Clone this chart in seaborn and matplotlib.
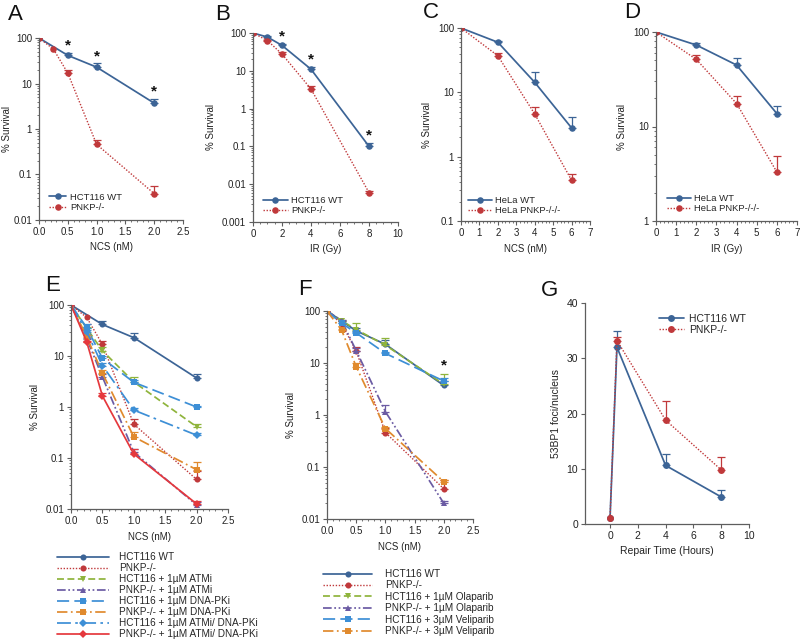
import numpy as np
import matplotlib
matplotlib.use("Agg")
import matplotlib.pyplot as plt
import seaborn as sns
from matplotlib.ticker import FuncFormatter, AutoMinorLocator, LogLocator, NullFormatter

# ---- panel A: NCS, HCT116
a_wt_x = [0.0, 0.5, 1.0, 2.0]
a_wt_y = [100, 41.5, 22.9, 3.7]
a_wt_err = [0, 6.5, 5.0, 0.8]
a_pn_x = [0.0, 0.25, 0.5, 1.0, 2.0]
a_pn_y = [100, 57, 16.9, 0.46, 0.038]
a_pn_err = [0, 0, 3.2, 0.11, 0.018]
a_star_x = [0.5, 1.0, 2.0]
a_star_y = [68, 40, 6.6]

# ---- panel B: IR, HCT116
b_x = [0, 1, 2, 4, 8]
b_wt_y = [100, 78, 47, 11, 0.1]
b_wt_err = [0, 4, 5, 1.5, 0.02]
b_pn_y = [100, 63, 27.7, 3.3, 0.006]
b_pn_err = [0, 4, 3, 0.6, 0.0008]
b_star_x = [2, 4, 8]
b_star_y = [80, 20, 0.2]

# ---- panel C: NCS, HeLa
c_x = [0, 2, 4, 6]
c_wt_y = [100, 60, 14.3, 2.8]
c_wt_err = [0, 2, 6.2, 1.4]
c_pn_y = [100, 37, 4.6, 0.43]
c_pn_err = [0, 4, 1.3, 0.11]

# ---- panel D: IR, HeLa
d_x = [0, 2, 4, 6]
d_wt_y = [100, 72.8, 44.7, 13.7]
d_wt_err = [0, 3.2, 8, 2.7]
d_pn_y = [100, 51.3, 17.5, 3.3]
d_pn_err = [0, 5.3, 3.5, 1.55]

# ---- panel E: NCS + ATMi / DNA-PKi
e_x = [0.0, 0.25, 0.5, 1.0, 2.0]
e_atmi_wt = [100, 35, 12.7, 3.1, 0.41]
e_atmi_wt_err = [0, 2, 2, 0.7, 0.05]
e_atmi_pn = [100, 22, 3.9, 0.13, 0.012]
e_atmi_pn_err = [0, 1, 0.5, 0.02, 0.002]
e_dpk_wt = [100, 36, 9.0, 3.05, 1.0]
e_dpk_wt_err = [0, 7, 1, 0.3, 0.05]
e_dpk_pn = [100, 24, 4.6, 0.26, 0.059]
e_dpk_pn_err = [0, 2, 0.6, 0.07, 0.025]
e_combo_wt = [100, 30, 6.5, 0.87, 0.28]
e_combo_wt_err = [0, 3, 0.8, 0.1, 0.03]
e_combo_pn = [100, 19, 1.65, 0.12, 0.0126]
e_combo_pn_err = [0, 1, 0.2, 0.03, 0.002]

# ---- panel F: NCS + PARP inhibitors
f_x = [0.0, 0.25, 0.5, 1.0, 2.0]
f_ola_wt = [100, 65, 44, 22, 3.9]
f_ola_wt_err = [0, 3, 15.7, 7.8, 2.3]
f_ola_pn = [100, 65, 17.3, 1.16, 0.02]
f_ola_pn_err = [0, 3, 2, 0.4, 0.002]
f_vel_wt = [100, 58, 38, 15.3, 4.5]
f_vel_wt_err = [0, 2, 2, 1.2, 0.6]
f_vel_pn = [100, 43, 8.5, 0.55, 0.052]
f_vel_pn_err = [0, 2, 1.5, 0.05, 0.004]
f_star_x = [2.0]
f_star_y = [9.1]

# ---- panel G: 53BP1 foci
g_x = [0, 0.5, 4, 8]
g_wt_y = [1.0, 32.0, 10.6, 4.9]
g_wt_err = [0, 2.9, 2.0, 1.2]
g_pn_y = [1.0, 33.2, 18.8, 9.8]
g_pn_err = [0, 0.7, 3.4, 2.4]

BLUE = "#3c6496"
RED = "#c0393b"
GREEN = "#8fb43c"
PURPLE = "#6b5ba3"
LBLUE = "#3d8fd6"
ORANGE = "#e08a2e"
RED2 = "#e5383d"
SPINE = "#5e5e5e"

sns.set_theme(style="ticks")
plt.rcParams["font.family"] = ["Liberation Sans", "DejaVu Sans"]
plt.rcParams["axes.edgecolor"] = SPINE

fig = plt.figure(figsize=(8, 6.42), dpi=100)


def px_axes(x0, y0, x1, y1):
    return fig.add_axes([x0 / 800, 1 - y1 / 642, (x1 - x0) / 800, (y1 - y0) / 642])


def series(ax, x, y, err, color, ls, marker, label, ms=4.7, lw=1.25):
    sns.lineplot(x=x, y=y, ax=ax, color=color, linestyle=ls, marker=marker,
                 markersize=ms, linewidth=lw, markeredgewidth=0, label=label,
                 errorbar=None, sort=False)
    x = np.asarray(x, float)
    y = np.asarray(y, float)
    err = np.asarray(err, float)
    m = err > 0
    if m.any():
        ax.errorbar(x[m], y[m], yerr=[np.zeros(m.sum()), err[m]], fmt="none",
                    ecolor=color, elinewidth=0.9, capsize=2.6, capthick=0.9)


def style_axes(ax, log=True, minor_x=True):
    sns.despine(ax=ax)
    for s in ("left", "bottom"):
        ax.spines[s].set_linewidth(0.9)
        ax.spines[s].set_color(SPINE)
    ax.tick_params(axis="both", which="major", labelsize=7, length=3,
                   width=0.8, color=SPINE, pad=2, labelcolor="#222222")
    ax.tick_params(axis="both", which="minor", length=1.6, width=0.6, color=SPINE)
    if log:
        ax.set_yscale("log")
        ax.yaxis.set_major_locator(LogLocator(base=10))
        ax.yaxis.set_minor_locator(LogLocator(base=10, subs=np.arange(2, 10)))
        ax.yaxis.set_minor_formatter(NullFormatter())
        ax.yaxis.set_major_formatter(FuncFormatter(lambda v, p: f"{v:g}"))
    if minor_x:
        ax.xaxis.set_minor_locator(AutoMinorLocator(5))


def small_legend(ax, x0, y0, hl, fs=6.8):
    leg = ax.legend(loc="lower left", bbox_to_anchor=(x0, y0), frameon=False,
                    fontsize=fs, handlelength=hl, handletextpad=0.4,
                    labelspacing=0.12, borderpad=0, borderaxespad=0, numpoints=1)
    return leg


def stars(ax, xs, ys):
    for sx, sy in zip(xs, ys):
        ax.text(sx, sy, "*", ha="center", va="center", fontsize=11,
                fontweight="bold", color="#111111")


lab = dict(fontsize=7, color="#222222")

# ---------------- A
axA = px_axes(39, 38, 183, 220)
style_axes(axA)
series(axA, a_wt_x, a_wt_y, a_wt_err, BLUE, "-", "o", "HCT116 WT")
series(axA, a_pn_x, a_pn_y, a_pn_err, RED, (0, (1, 1.2)), "o", "PNKP-/-", lw=1.0)
stars(axA, a_star_x, a_star_y)
axA.set_xlim(0, 2.5)
axA.set_xticks([0, 0.5, 1.0, 1.5, 2.0, 2.5])
axA.xaxis.set_major_formatter(FuncFormatter(lambda v, p: f"{v:.1f}"))
axA.set_ylim(0.01, 100)
axA.set_xlabel("NCS (nM)", **lab)
axA.set_ylabel("% Survival", labelpad=1, **lab)
small_legend(axA, 0.07, 0.045, 1.8)

# ---------------- B
axB = px_axes(253, 33, 398, 222)
style_axes(axB)
series(axB, b_x, b_wt_y, b_wt_err, BLUE, "-", "o", "HCT116 WT")
series(axB, b_x, b_pn_y, b_pn_err, RED, (0, (1, 1.2)), "o", "PNKP-/-", lw=1.0)
stars(axB, b_star_x, b_star_y)
axB.set_xlim(0, 10)
axB.set_xticks([0, 2, 4, 6, 8, 10])
axB.xaxis.set_minor_locator(AutoMinorLocator(4))
axB.set_ylim(0.001, 100)
axB.set_xlabel("IR (Gy)", **lab)
axB.set_ylabel("% Survival", **lab)
small_legend(axB, 0.07, 0.035, 2.6)

# ---------------- C
axC = px_axes(461, 28, 590, 221)
style_axes(axC)
series(axC, c_x, c_wt_y, c_wt_err, BLUE, "-", "o", "HeLa WT")
series(axC, c_x, c_pn_y, c_pn_err, RED, (0, (1, 1.2)), "o", "HeLa PNKP-/-/-", lw=1.0)
axC.set_xlim(0, 7)
axC.set_xticks(range(8))
axC.set_ylim(0.1, 100)
axC.set_xlabel("NCS (nM)", **lab)
axC.set_ylabel("% Survival", **lab)
small_legend(axC, 0.055, 0.03, 2.5)

# ---------------- D
axD = px_axes(656, 32, 797, 221)
style_axes(axD)
series(axD, d_x, d_wt_y, d_wt_err, BLUE, "-", "o", "HeLa WT")
series(axD, d_x, d_pn_y, d_pn_err, RED, (0, (1, 1.2)), "o", "HeLa PNKP-/-/-", lw=1.0)
axD.set_xlim(0, 7)
axD.set_xticks(range(8))
axD.set_ylim(1, 100)
axD.set_xlabel("IR (Gy)", **lab)
axD.set_ylabel("% Survival", **lab)
small_legend(axD, 0.078, 0.04, 2.5)

# ---------------- E
axE = px_axes(71, 305, 228, 509)
style_axes(axE)
ms = 4.4
series(axE, a_wt_x, a_wt_y, a_wt_err, BLUE, "-", "o", "HCT116 WT", ms=ms)
series(axE, a_pn_x, a_pn_y, a_pn_err, RED, (0, (1, 1.2)), "o", "PNKP-/-", ms=ms, lw=1.0)
series(axE, e_x, e_atmi_wt, e_atmi_wt_err, GREEN, (0, (4, 2)), "v", "HCT116 + 1µM ATMi", ms=ms)
series(axE, e_x, e_atmi_pn, e_atmi_pn_err, PURPLE, (0, (5, 1.5, 1, 1.5, 1, 1.5)), "^",
       "PNKP-/- + 1µM ATMi", ms=ms)
series(axE, e_x, e_dpk_wt, e_dpk_wt_err, LBLUE, (0, (7, 3)), "s", "HCT116 + 1µM DNA-PKi", ms=ms)
series(axE, e_x, e_dpk_pn, e_dpk_pn_err, ORANGE, (0, (6, 2, 1, 2)), "s",
       "PNKP-/- + 1µM DNA-PKi", ms=ms)
series(axE, e_x, e_combo_wt, e_combo_wt_err, LBLUE, (0, (8, 2.5, 1.5, 2.5)), "D",
       "HCT116 + 1µM ATMi/ DNA-PKi", ms=ms - 0.6)
series(axE, e_x, e_combo_pn, e_combo_pn_err, RED2, "-", "D",
       "PNKP-/- + 1µM ATMi/ DNA-PKi", ms=ms - 0.6)
axE.set_xlim(0, 2.5)
axE.set_xticks([0, 0.5, 1.0, 1.5, 2.0, 2.5])
axE.xaxis.set_major_formatter(FuncFormatter(lambda v, p: f"{v:.1f}"))
axE.set_ylim(0.01, 100)
axE.set_xlabel("NCS (nM)", **lab)
axE.set_ylabel("% Survival", **lab)
h, l = axE.get_legend_handles_labels()
axE.get_legend().remove()
fig.legend(h, l, loc="upper left", bbox_to_anchor=(57 / 800, 1 - 552 / 642), frameon=False,
           fontsize=7.2, handlelength=5.2, handletextpad=1.0, labelspacing=0.1,
           borderpad=0, borderaxespad=0, numpoints=1)

# ---------------- F
axF = px_axes(327, 311, 473, 519)
style_axes(axF)
series(axF, a_wt_x, a_wt_y, a_wt_err, BLUE, "-", "o", "HCT116 WT", ms=ms)
series(axF, a_pn_x, a_pn_y, a_pn_err, RED, (0, (1, 1.2)), "o", "PNKP-/-", ms=ms, lw=1.0)
series(axF, f_x, f_ola_wt, f_ola_wt_err, GREEN, (0, (4, 2)), "v", "HCT116 + 1µM Olaparib", ms=ms)
series(axF, f_x, f_ola_pn, f_ola_pn_err, PURPLE, (0, (5, 1.5, 1, 1.5, 1, 1.5)), "^",
       "PNKP-/- + 1µM Olaparib", ms=ms)
series(axF, f_x, f_vel_wt, f_vel_wt_err, LBLUE, (0, (7, 3)), "s", "HCT116 + 3µM Veliparib", ms=ms)
series(axF, f_x, f_vel_pn, f_vel_pn_err, ORANGE, (0, (6, 2, 1, 2)), "s",
       "PNKP-/- + 3µM Veliparib", ms=ms)
stars(axF, f_star_x, f_star_y)
axF.set_xlim(0, 2.5)
axF.set_xticks([0, 0.5, 1.0, 1.5, 2.0, 2.5])
axF.xaxis.set_major_formatter(FuncFormatter(lambda v, p: f"{v:.1f}"))
axF.set_ylim(0.01, 100)
axF.set_xlabel("NCS (nM)", **lab)
axF.set_ylabel("% Survival", **lab)
h, l = axF.get_legend_handles_labels()
axF.get_legend().remove()
fig.legend(h, l, loc="upper left", bbox_to_anchor=(323 / 800, 1 - 569 / 642), frameon=False,
           fontsize=7.2, handlelength=4.9, handletextpad=1.3, labelspacing=0.14,
           borderpad=0, borderaxespad=0, numpoints=1)

# ---------------- G
axG = px_axes(585, 303, 749, 524)
style_axes(axG, log=False, minor_x=False)
series(axG, g_x, g_wt_y, g_wt_err, BLUE, "-", "o", "HCT116 WT", ms=5)
series(axG, g_x, g_pn_y, g_pn_err, RED, (0, (1, 1.2)), "o", "PNKP-/-", ms=5, lw=1.0)
axG.set_xlim(-1.8, 10)
axG.set_xticks([0, 2, 4, 6, 8, 10])
axG.set_ylim(0, 40)
axG.set_yticks([0, 10, 20, 30, 40])
axG.tick_params(axis="both", which="major", labelsize=7.5)
axG.set_xlabel("Repair Time (Hours)", fontsize=7.5, color="#222222")
axG.set_ylabel("53BP1 foci/nucleus", fontsize=7.5, color="#222222")
axG.legend(loc="upper left", bbox_to_anchor=(0.45, 0.95), frameon=False, fontsize=7.5,
           handlelength=2.4, handletextpad=0.5, labelspacing=0.1, borderpad=0,
           borderaxespad=0, numpoints=1)

# ---------------- panel letters
for txt, x, y in [("A", 15, 14), ("B", 223, 14), ("C", 431, 12), ("D", 632, 13),
                  ("E", 53, 286), ("F", 305, 290), ("G", 549, 291)]:
    fig.text(x / 800, 1 - y / 642, txt, fontsize=16, ha="center", va="center",
             color="#111111")

fig.savefig("out.png", dpi=100)
